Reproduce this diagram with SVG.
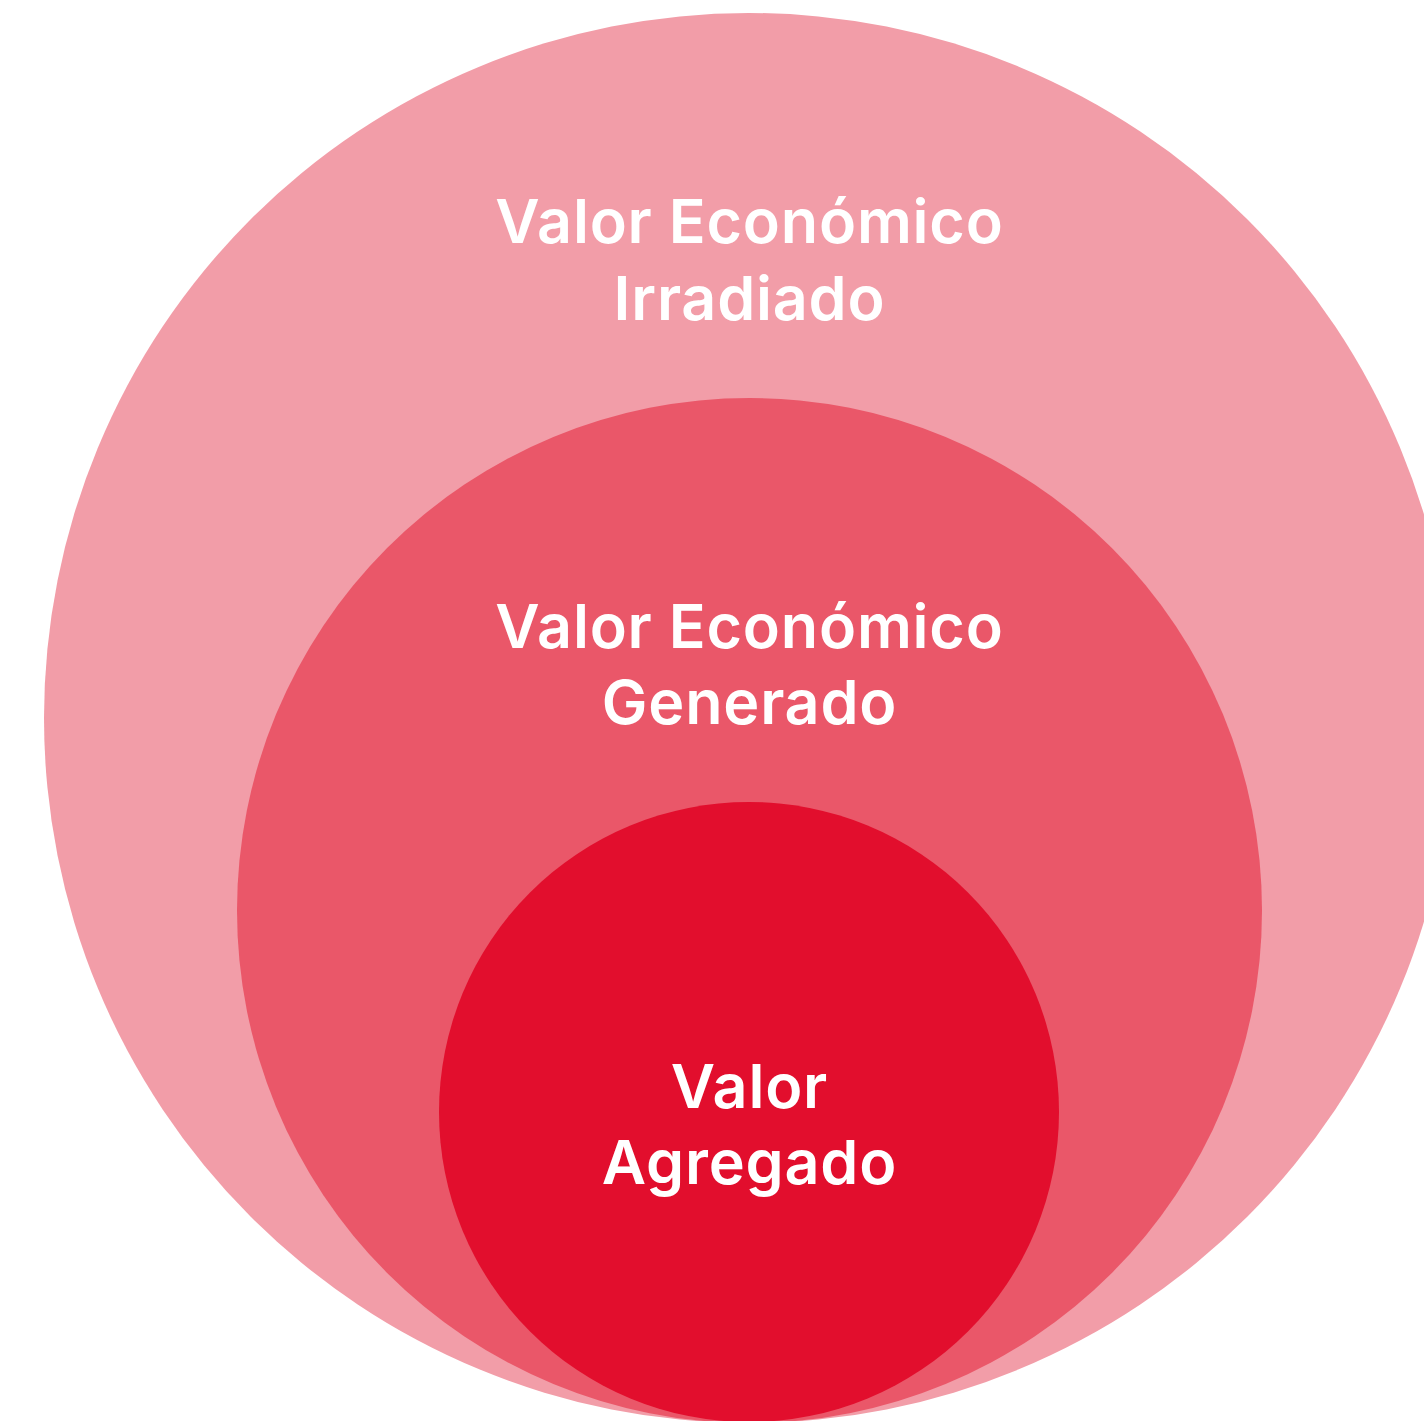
<svg xmlns="http://www.w3.org/2000/svg" width="1424" height="1421" viewBox="0 0 1424 1421">
<style>
.lbl{font-family:Inter,"Noto Sans","Liberation Sans",sans-serif;font-weight:600;font-size:61px;letter-spacing:0.8px;fill:#FFFFFF;text-anchor:middle}
</style>
<rect width="1424" height="1421" fill="#FFFFFF"/>
<g id="outer"><circle cx="749" cy="718" r="705" fill="#F29DA8"/>
<text class="lbl" x="749.5" y="243">Valor Económico</text>
<text class="lbl" x="749.5" y="320">Irradiado</text></g>
<g id="middle"><circle cx="749.5" cy="910.5" r="512.5" fill="#EA5769"/>
<text class="lbl" x="749.5" y="648">Valor Económico</text>
<text class="lbl" x="749.5" y="724">Generado</text></g>
<g id="inner"><circle cx="749" cy="1112" r="310" fill="#E20E2D"/>
<text class="lbl" x="749.5" y="1108">Valor</text>
<text class="lbl" x="749.5" y="1184">Agregado</text></g>
<g id="connectors"/>
</svg>
